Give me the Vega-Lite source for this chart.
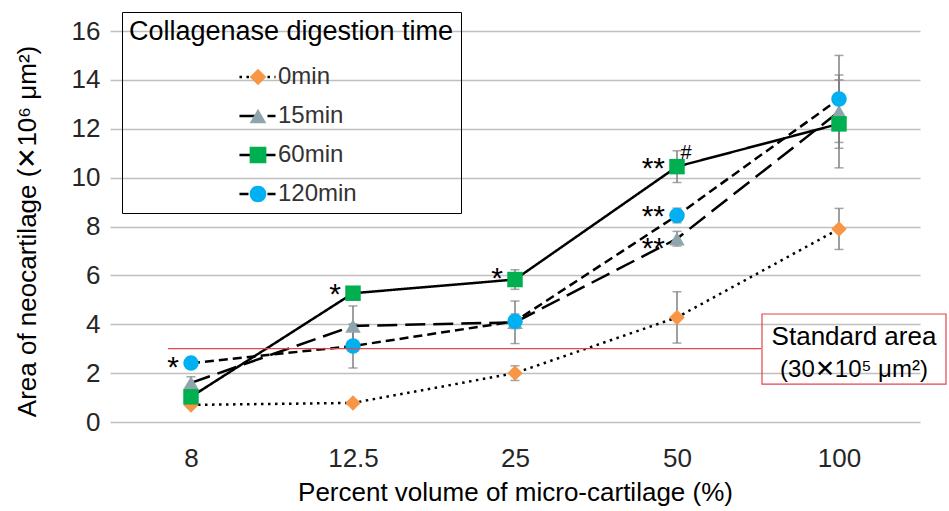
{
  "$schema": "https://vega.github.io/schema/vega-lite/v6.json",
  "width": 810,
  "height": 391,
  "autosize": "none",
  "padding": {"left": 110, "top": 31, "right": 29, "bottom": 89},
  "background": "white",
  "config": {
    "font": "Liberation Sans",
    "view": {"stroke": null},
    "axis": {
      "labelFont": "Liberation Sans",
      "titleFont": "Liberation Sans",
      "labelFontSize": 26,
      "titleFontSize": 26,
      "labelColor": "#262626",
      "titleColor": "#000000",
      "titleFontWeight": "normal"
    }
  },
  "data": {
    "values": [
      {"time": "0min", "pct": "8", "value": 0.7, "err": 0.1},
      {"time": "0min", "pct": "12.5", "value": 0.78, "err": 0.05},
      {"time": "0min", "pct": "25", "value": 2.0, "err": 0.3},
      {"time": "0min", "pct": "50", "value": 4.28, "err": 1.05},
      {"time": "0min", "pct": "100", "value": 7.9, "err": 0.84},
      {"time": "15min", "pct": "8", "value": 1.6, "err": 0.25},
      {"time": "15min", "pct": "12.5", "value": 3.93, "err": 0.82},
      {"time": "15min", "pct": "25", "value": 4.08, "err": 0.87},
      {"time": "15min", "pct": "50", "value": 7.5, "err": 0.3},
      {"time": "15min", "pct": "100", "value": 12.7, "err": 1.5},
      {"time": "60min", "pct": "8", "value": 1.03, "err": 0.2},
      {"time": "60min", "pct": "12.5", "value": 5.27, "err": 0.2},
      {"time": "60min", "pct": "25", "value": 5.83, "err": 0.4},
      {"time": "60min", "pct": "50", "value": 10.45, "err": 0.65},
      {"time": "60min", "pct": "100", "value": 12.2, "err": 1.8},
      {"time": "120min", "pct": "8", "value": 2.41, "err": 0.15},
      {"time": "120min", "pct": "12.5", "value": 3.11, "err": 0.9},
      {"time": "120min", "pct": "25", "value": 4.12, "err": 0.3},
      {"time": "120min", "pct": "50", "value": 8.45, "err": 0.3},
      {"time": "120min", "pct": "100", "value": 13.22, "err": 1.78}
    ]
  },
  "encoding": {
    "x": {
      "field": "pct",
      "type": "ordinal",
      "sort": ["8", "12.5", "25", "50", "100"],
      "scale": {"type": "point", "padding": 0.5, "domain": ["8", "12.5", "25", "50", "100"]},
      "axis": {
        "title": "Percent volume of micro-cartilage (%)",
        "labelAngle": 0,
        "grid": false,
        "domain": false,
        "ticks": false,
        "labelPadding": 23,
        "titlePadding": 8
      }
    }
  },
  "layer": [
    {
      "mark": {"type": "errorbar", "ticks": true, "color": "#7F7F7F", "thickness": 1.5, "size": 9},
      "encoding": {
        "y": {
          "field": "value",
          "type": "quantitative",
          "scale": {"domain": [0, 16], "nice": false},
          "axis": {
            "title": "Area of neocartilage (✕10⁶ μm²)",
            "values": [0, 2, 4, 6, 8, 10, 12, 14, 16],
            "grid": true,
            "gridColor": "#BFBFBF",
            "gridWidth": 1.5,
            "domain": false,
            "ticks": false,
            "labelPadding": 10,
            "titlePadding": 31,
            "titleY": 200
          }
        },
        "yError": {"field": "err"},
        "detail": {"field": "time"}
      }
    },
    {
      "mark": {"type": "line", "color": "black", "strokeWidth": 2.5},
      "encoding": {
        "y": {"field": "value", "type": "quantitative"},
        "strokeDash": {
          "field": "time",
          "type": "nominal",
          "sort": ["0min", "15min", "60min", "120min"],
          "scale": {"range": [[2.5, 4.5], [20, 8], [1, 0], [9, 5]]},
          "legend": {
            "title": "Collagenase digestion time",
            "orient": "none",
            "legendX": 12,
            "legendY": -19,
            "padding": 7,
            "titleFontSize": 27,
            "titleFontWeight": "normal",
            "titleLimit": 500,
            "titleOpacity": 0,
            "titleAnchor": "middle",
            "titlePadding": 20,
            "labelFontSize": 24,
            "labelOpacity": 0,
            "clipHeight": 22,
            "symbolType": "stroke",
            "symbolSize": 1300,
            "symbolStrokeWidth": 2.5,
            "symbolStrokeColor": "black",
            "symbolOffset": 16,
            "rowPadding": 15,
            "zindex": 1
          }
        }
      }
    },
    {
      "mark": {"type": "point", "filled": true, "opacity": 1, "size": 240},
      "encoding": {
        "y": {"field": "value", "type": "quantitative"},
        "color": {
          "field": "time",
          "type": "nominal",
          "scale": {
            "domain": ["0min", "15min", "60min", "120min"],
            "range": ["#F79646", "#8FA5AC", "#00B050", "#00B0F0"]
          },
          "legend": {
            "title": "Collagenase digestion time",
            "orient": "none",
            "legendX": 12,
            "legendY": -19,
            "padding": 7,
            "strokeColor": "black",
            "titleFontSize": 27,
            "titleFontWeight": "normal",
            "titleLimit": 500,
            "titleColor": "black",
            "titleAnchor": "middle",
            "titlePadding": 20,
            "labelFontSize": 24,
            "labelColor": "#333333",
            "clipHeight": 22,
            "symbolSize": 280,
            "symbolStrokeWidth": 0,
            "symbolOpacity": 1,
            "symbolOffset": 20,
            "labelOffset": 8,
            "rowPadding": 15,
            "zindex": 2
          }
        },
        "shape": {
          "field": "time",
          "type": "nominal",
          "scale": {
            "domain": ["0min", "15min", "60min", "120min"],
            "range": ["diamond", "triangle-up", "square", "circle"]
          },
          "legend": {
            "title": "Collagenase digestion time",
            "orient": "none",
            "legendX": 12,
            "legendY": -19,
            "padding": 7,
            "strokeColor": "black",
            "titleFontSize": 27,
            "titleFontWeight": "normal",
            "titleLimit": 500,
            "titleColor": "black",
            "titleAnchor": "middle",
            "titlePadding": 20,
            "labelFontSize": 24,
            "labelColor": "#333333",
            "clipHeight": 22,
            "symbolSize": 280,
            "symbolStrokeWidth": 0,
            "symbolOpacity": 1,
            "symbolOffset": 20,
            "labelOffset": 8,
            "rowPadding": 15,
            "zindex": 2
          }
        }
      }
    },
    {
      "data": {
        "values": [
          {"pct": "8", "y": 2.5, "label": "*"},
          {"pct": "12.5", "y": 5.48, "label": "*"},
          {"pct": "25", "y": 6.14, "label": "*"},
          {"pct": "50", "y": 10.64, "label": "**"},
          {"pct": "50", "y": 8.67, "label": "**"},
          {"pct": "50", "y": 7.36, "label": "**"}
        ]
      },
      "mark": {"type": "text", "align": "right", "baseline": "middle", "dx": -12, "dy": 7, "fontSize": 30, "font": "Liberation Sans", "color": "black"},
      "encoding": {
        "y": {"field": "y", "type": "quantitative"},
        "text": {"field": "label"}
      }
    },
    {
      "data": {"values": [{"pct": "50", "y": 11.0, "label": "#"}]},
      "mark": {"type": "text", "align": "center", "baseline": "middle", "dx": 9, "fontSize": 20, "font": "Liberation Sans", "color": "black"},
      "encoding": {
        "y": {"field": "y", "type": "quantitative"},
        "text": {"field": "label"}
      }
    },
    {
      "data": {"values": [{}]},
      "mark": {"type": "rule", "color": "#E3454A", "strokeWidth": 1.2, "xOffset": -23, "x2Offset": -78},
      "encoding": {
        "x": {"datum": "8", "type": "ordinal"},
        "x2": {"datum": "100"},
        "y": {"datum": 3, "type": "quantitative"}
      }
    },
    {
      "data": {"values": [{}]},
      "mark": {"type": "rect", "fill": null, "fillOpacity": 0, "stroke": "#E3454A", "strokeWidth": 1.2, "xOffset": -77, "x2Offset": 107},
      "encoding": {
        "x": {"datum": "100", "type": "ordinal"},
        "x2": {"datum": "100"},
        "y": {"datum": 4.42, "type": "quantitative"},
        "y2": {"datum": 1.55}
      }
    },
    {
      "data": {"values": [{}]},
      "mark": {"type": "text", "align": "center", "baseline": "middle", "dx": 15, "fontSize": 26, "font": "Liberation Sans", "color": "black", "text": "Standard area"},
      "encoding": {
        "x": {"datum": "100", "type": "ordinal"},
        "y": {"datum": 3.48, "type": "quantitative"}
      }
    },
    {
      "data": {"values": [{}]},
      "mark": {"type": "text", "align": "center", "baseline": "middle", "dx": 15, "fontSize": 24, "font": "Liberation Sans", "color": "black", "text": "(30✕10⁵ μm²)"},
      "encoding": {
        "x": {"datum": "100", "type": "ordinal"},
        "y": {"datum": 2.13, "type": "quantitative"}
      }
    }
  ]
}
